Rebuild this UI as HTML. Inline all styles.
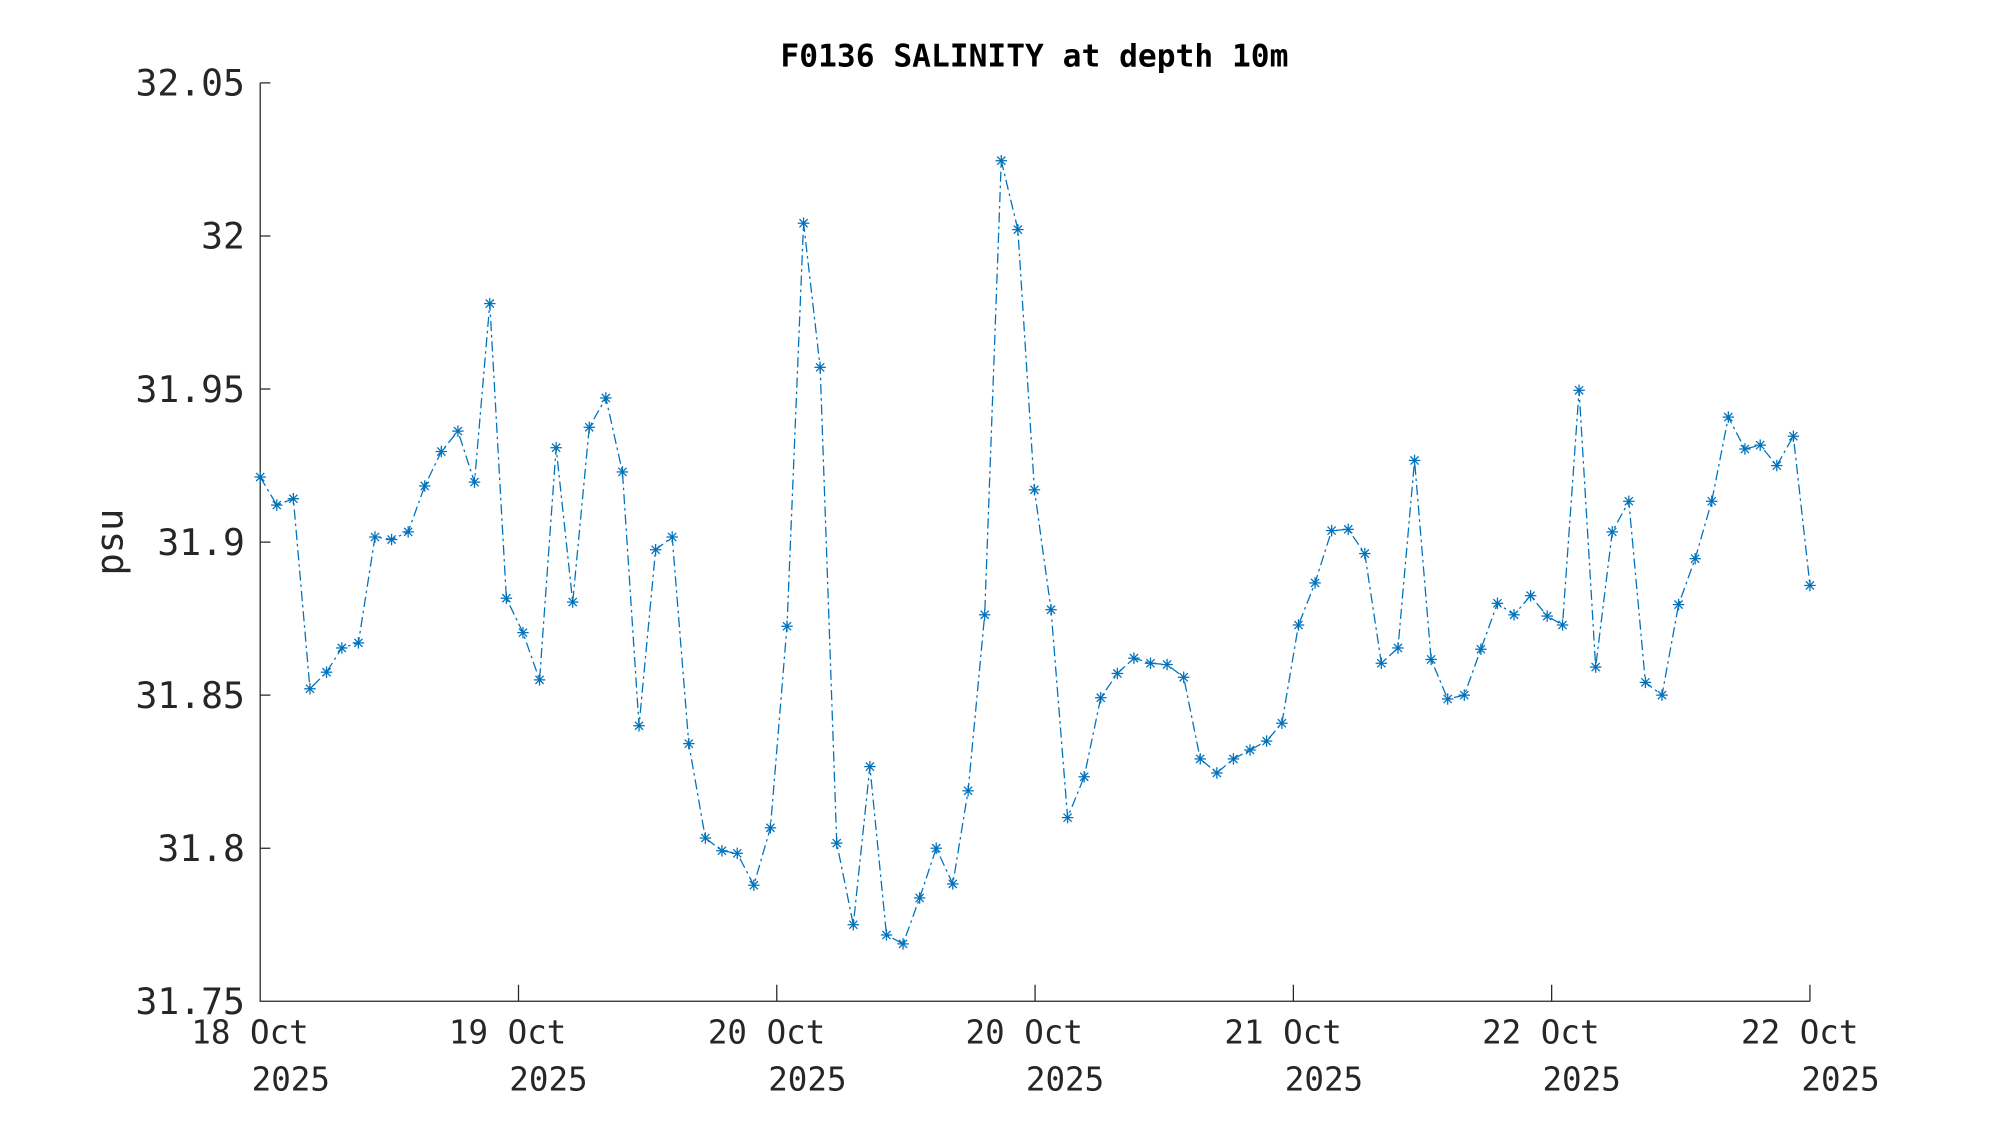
<!DOCTYPE html>
<html><head><meta charset="utf-8"><style>html,body{margin:0;padding:0;background:#fff}svg{display:block}</style></head>
<body>
<svg width="2000" height="1125" viewBox="0 0 1568 882" xmlns="http://www.w3.org/2000/svg">
<rect width="1568" height="882" fill="#fff"/>
<defs>
<g id="m" stroke="#0072BD" stroke-width="1">
<line x1="-4.5" y1="0" x2="4.5" y2="0"/><line x1="0" y1="-4.5" x2="0" y2="4.5"/>
<line x1="-3.2" y1="-3.2" x2="3.2" y2="3.2"/><line x1="-3.2" y1="3.2" x2="3.2" y2="-3.2"/>
</g>
</defs>
<text x="811" y="52" text-anchor="middle" font-family="DejaVu Sans Mono, Liberation Mono, monospace" font-weight="bold" font-size="24.5" fill="#000">F0136 SALINITY at depth 10m</text>
<g stroke="#262626" stroke-width="1" fill="none">
<path d="M204,65 V785 H1419"/>
<path d="M204,65h8M204,185h8M204,305h8M204,425h8M204,545h8M204,665h8"/>
<path d="M406.5,785v-13M609,785v-13M811.5,785v-13M1014,785v-13M1216.5,785v-13M1419,785v-13"/>
</g>
<g font-family="DejaVu Sans Mono, Liberation Mono, monospace" font-size="28.5" fill="#262626" text-anchor="end">
<text x="192" y="75">32.05</text><text x="192" y="195">32</text><text x="192" y="315">31.95</text>
<text x="192" y="435">31.9</text><text x="192" y="555">31.85</text><text x="192" y="675">31.8</text><text x="192" y="795">31.75</text>
</g>
<g font-family="DejaVu Sans Mono, Liberation Mono, monospace" font-size="25.5" fill="#262626" text-anchor="middle">
<text x="196" y="818">18 Oct</text><text x="228" y="855">2025</text>
<text x="398" y="818">19 Oct</text><text x="430" y="855">2025</text>
<text x="601" y="818">20 Oct</text><text x="633" y="855">2025</text>
<text x="803" y="818">20 Oct</text><text x="835" y="855">2025</text>
<text x="1006" y="818">21 Oct</text><text x="1038" y="855">2025</text>
<text x="1208" y="818">22 Oct</text><text x="1240" y="855">2025</text>
<text x="1411" y="818">22 Oct</text><text x="1443" y="855">2025</text>
</g>
<text transform="translate(96,425) rotate(-90)" text-anchor="middle" font-family="DejaVu Sans Mono, Liberation Mono, monospace" font-size="29" fill="#262626">psu</text>
<polyline fill="none" stroke="#0072BD" stroke-width="1" stroke-dasharray="8,3,2,3" points="204,374 217,396 230,391 243,540 256,527 268,508 281,504 294,421 307,423 320,417 333,381 346,354 359,338 372,378 384,238 397,469 410,496 423,533 436,351 449,472 462,335 475,312 488,370 501,569 514,431 527,421 540,583 553,657 566,667 578,669 591,694 604,649 617,491 630,175 643,288 656,661 669,725 682,601 695,733 708,740 721,704 734,665 747,693 759,620 772,482 785,126 798,180 811,384 824,478 837,641 850,609 863,547 876,528 889,516 902,520 915,521 928,531 941,595 954,606 967,595 980,588 993,581 1005,567 1018,490 1031,457 1044,416 1057,415 1070,434 1083,520 1096,508 1109,361 1122,517 1135,548 1148,545 1161,509 1174,473 1187,482 1200,467 1213,483 1225,490 1238,306 1251,523 1264,417 1277,393 1290,535 1303,545 1316,474 1329,438 1342,393 1355,327 1368,352 1380,349 1393,365 1406,342 1419,459"/>
<g>
<use href="#m" x="204" y="374"/><use href="#m" x="217" y="396"/><use href="#m" x="230" y="391"/><use href="#m" x="243" y="540"/><use href="#m" x="256" y="527"/><use href="#m" x="268" y="508"/><use href="#m" x="281" y="504"/><use href="#m" x="294" y="421"/><use href="#m" x="307" y="423"/><use href="#m" x="320" y="417"/><use href="#m" x="333" y="381"/><use href="#m" x="346" y="354"/><use href="#m" x="359" y="338"/><use href="#m" x="372" y="378"/><use href="#m" x="384" y="238"/><use href="#m" x="397" y="469"/><use href="#m" x="410" y="496"/><use href="#m" x="423" y="533"/><use href="#m" x="436" y="351"/><use href="#m" x="449" y="472"/><use href="#m" x="462" y="335"/><use href="#m" x="475" y="312"/><use href="#m" x="488" y="370"/><use href="#m" x="501" y="569"/><use href="#m" x="514" y="431"/><use href="#m" x="527" y="421"/><use href="#m" x="540" y="583"/><use href="#m" x="553" y="657"/><use href="#m" x="566" y="667"/><use href="#m" x="578" y="669"/><use href="#m" x="591" y="694"/><use href="#m" x="604" y="649"/><use href="#m" x="617" y="491"/><use href="#m" x="630" y="175"/><use href="#m" x="643" y="288"/><use href="#m" x="656" y="661"/><use href="#m" x="669" y="725"/><use href="#m" x="682" y="601"/><use href="#m" x="695" y="733"/><use href="#m" x="708" y="740"/><use href="#m" x="721" y="704"/><use href="#m" x="734" y="665"/><use href="#m" x="747" y="693"/><use href="#m" x="759" y="620"/><use href="#m" x="772" y="482"/><use href="#m" x="785" y="126"/><use href="#m" x="798" y="180"/><use href="#m" x="811" y="384"/><use href="#m" x="824" y="478"/><use href="#m" x="837" y="641"/><use href="#m" x="850" y="609"/><use href="#m" x="863" y="547"/><use href="#m" x="876" y="528"/><use href="#m" x="889" y="516"/><use href="#m" x="902" y="520"/><use href="#m" x="915" y="521"/><use href="#m" x="928" y="531"/><use href="#m" x="941" y="595"/><use href="#m" x="954" y="606"/><use href="#m" x="967" y="595"/><use href="#m" x="980" y="588"/><use href="#m" x="993" y="581"/><use href="#m" x="1005" y="567"/><use href="#m" x="1018" y="490"/><use href="#m" x="1031" y="457"/><use href="#m" x="1044" y="416"/><use href="#m" x="1057" y="415"/><use href="#m" x="1070" y="434"/><use href="#m" x="1083" y="520"/><use href="#m" x="1096" y="508"/><use href="#m" x="1109" y="361"/><use href="#m" x="1122" y="517"/><use href="#m" x="1135" y="548"/><use href="#m" x="1148" y="545"/><use href="#m" x="1161" y="509"/><use href="#m" x="1174" y="473"/><use href="#m" x="1187" y="482"/><use href="#m" x="1200" y="467"/><use href="#m" x="1213" y="483"/><use href="#m" x="1225" y="490"/><use href="#m" x="1238" y="306"/><use href="#m" x="1251" y="523"/><use href="#m" x="1264" y="417"/><use href="#m" x="1277" y="393"/><use href="#m" x="1290" y="535"/><use href="#m" x="1303" y="545"/><use href="#m" x="1316" y="474"/><use href="#m" x="1329" y="438"/><use href="#m" x="1342" y="393"/><use href="#m" x="1355" y="327"/><use href="#m" x="1368" y="352"/><use href="#m" x="1380" y="349"/><use href="#m" x="1393" y="365"/><use href="#m" x="1406" y="342"/><use href="#m" x="1419" y="459"/>
</g>
</svg>
</body></html>
